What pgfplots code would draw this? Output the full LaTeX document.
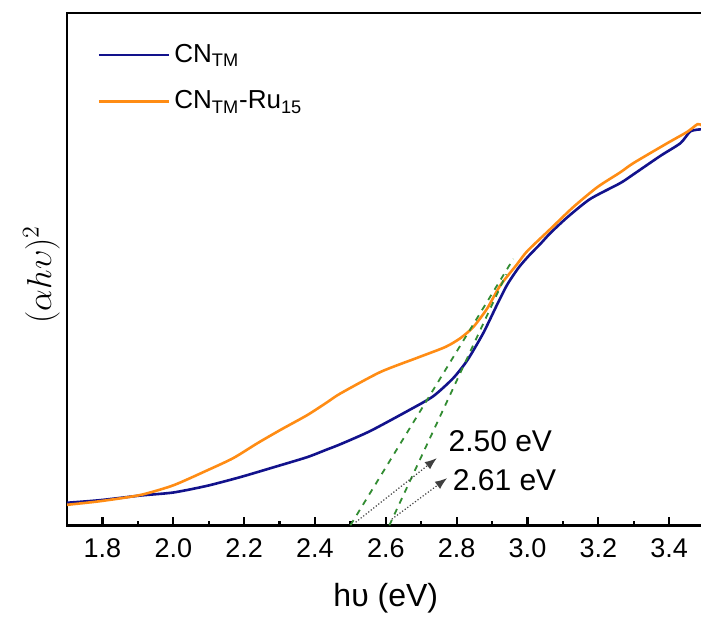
\documentclass[border=0pt]{standalone}
\usepackage{pgfplots}
\pgfplotsset{compat=1.18}
\usepackage{fontspec}
\setmainfont{Liberation Sans}
\usetikzlibrary{arrows.meta}

\definecolor{cnblue}{RGB}{18,18,140}
\definecolor{cnorange}{RGB}{255,140,20}
\definecolor{tangent}{RGB}{50,140,50}

\begin{document}
\begin{tikzpicture}
\useasboundingbox (-33.5pt,-47pt) rectangle (316.8pt,262.5pt);
\begin{axis}[
  at={(0,0)}, anchor=south west,
  scale only axis,
  width=318.6pt, height=256pt,
  xmin=1.7, xmax=3.5,
  ymin=0, ymax=1,
  xtick={1.8,2.0,...,3.4},
  minor xtick={1.7,1.9,...,3.5},
  ytick=\empty,
  xtick pos=left,
  tick align=inside,
  major tick length=4pt,
  minor tick length=2pt,
  every tick/.style={black, line width=1.1pt},
  axis line style={line width=1.3pt},
  /pgf/number format/assume math mode=true,
  xticklabel style={font=\fontsize{13.5}{16}\selectfont, yshift=-3pt,
    /pgf/number format/.cd, fixed, fixed zerofill, precision=1},
  xlabel={hυ (eV)},
  xlabel style={font=\fontsize{16}{19}\selectfont, yshift=-6pt},
  ylabel={$(\alpha h\upsilon)^2$},
  ylabel style={font=\fontsize{17}{20}\selectfont, at={(axis description cs:-0.04,0.49)}, anchor=center},
  legend style={draw=none, fill=none, at={(axis description cs:0.038,0.955)}, anchor=north west,
    font=\fontsize{13}{16}\selectfont, legend cell align=left, row sep=8.5pt},
  legend image code/.code={\draw[#1] (0pt,0pt) -- (35pt,0pt);},
]
\addplot[cnblue, line width=1.3pt, smooth, tension=0.4] coordinates {
 (1.700,0.044) (1.793,0.049) (1.906,0.058) (2.000,0.064) (2.095,0.077)
 (2.189,0.094) (2.282,0.113) (2.378,0.133) (2.434,0.148) (2.471,0.158)
 (2.556,0.184) (2.669,0.226) (2.734,0.252) (2.790,0.287) (2.830,0.322)
 (2.875,0.375) (2.915,0.432) (2.943,0.470) (2.975,0.503) (3.005,0.527)
 (3.036,0.549) (3.064,0.570) (3.112,0.601) (3.177,0.637) (3.262,0.668)
 (3.299,0.685) (3.375,0.721) (3.432,0.746) (3.460,0.769) (3.491,0.773)
};
\addlegendentry{CN\textsubscript{TM}}
\addplot[cnorange, line width=1.3pt, smooth, tension=0.4] coordinates {
 (1.700,0.040) (1.793,0.047) (1.906,0.059) (2.000,0.078) (2.095,0.107)
 (2.169,0.131) (2.237,0.160) (2.302,0.186) (2.378,0.215) (2.434,0.240)
 (2.471,0.257) (2.584,0.299) (2.689,0.327) (2.768,0.348) (2.810,0.365)
 (2.847,0.387) (2.886,0.423) (2.923,0.468) (2.971,0.510) (2.999,0.535)
 (3.064,0.578) (3.129,0.621) (3.197,0.660) (3.262,0.689) (3.299,0.707)
 (3.395,0.746) (3.451,0.768) (3.480,0.783) (3.491,0.781)
};
\addlegendentry{CN\textsubscript{TM}-Ru\textsubscript{15}}

% tangent lines extrapolated to the energy axis
\addplot[tangent, line width=0.9pt, dashed, forget plot] coordinates {(2.50,0) (2.96,0.52)};
\addplot[tangent, line width=0.9pt, dashed, forget plot] coordinates {(2.61,0) (2.94,0.49)};

% band-gap annotations
\draw[densely dotted, black!75, line width=0.6pt, -{Latex[length=6pt,width=4.5pt]}]
  (axis cs:2.515,0.006) -- (axis cs:2.744,0.131);
\draw[densely dotted, black!75, line width=0.6pt, -{Latex[length=6pt,width=4.5pt]}]
  (axis cs:2.617,0.012) -- (axis cs:2.773,0.092);
\node[anchor=west, font=\fontsize{15}{18}\selectfont, inner sep=0pt] at (axis cs:2.776,0.164) {2.50 eV};
\node[anchor=west, font=\fontsize{15}{18}\selectfont, inner sep=0pt] at (axis cs:2.788,0.088) {2.61 eV};
\end{axis}
\end{tikzpicture}
\end{document}
